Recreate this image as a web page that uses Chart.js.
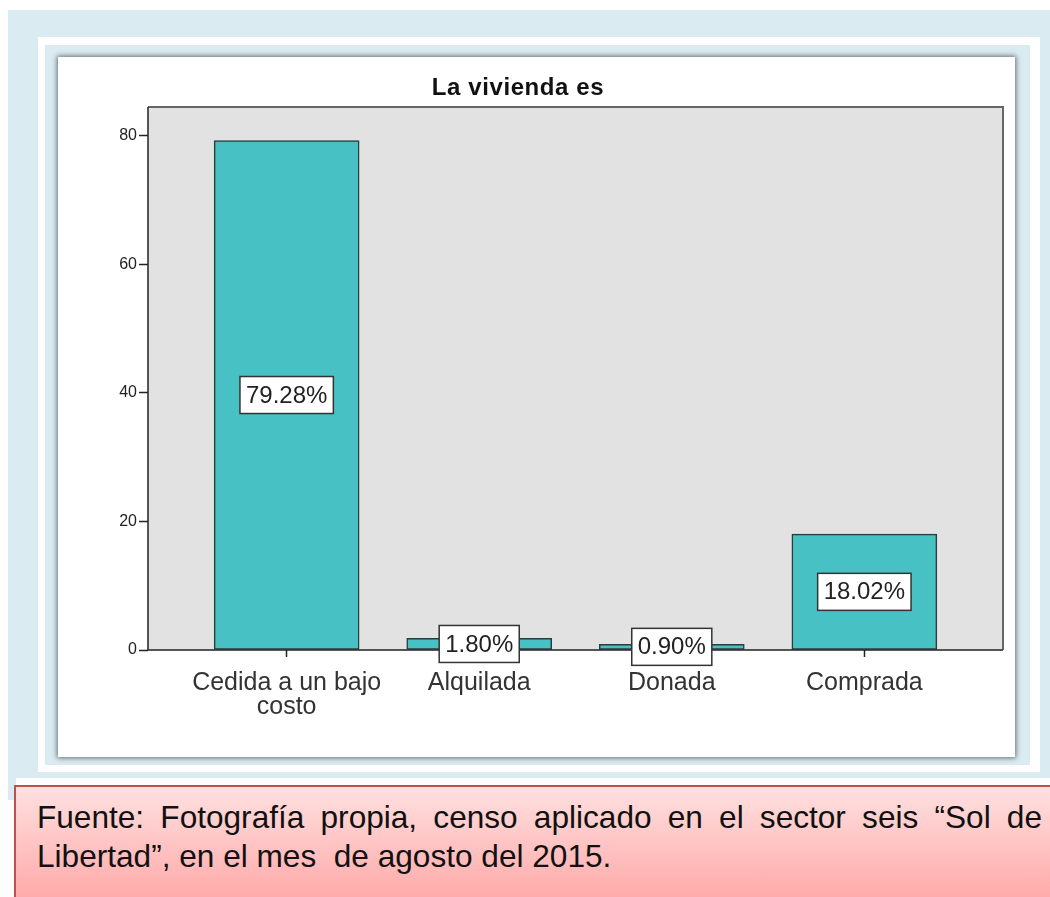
<!DOCTYPE html>
<html><head><meta charset="utf-8">
<script src="https://cdn.jsdelivr.net/npm/chart.js@4/dist/chart.umd.min.js"></script>
<style>
html,body{margin:0;padding:0;background:#fff;width:1050px;height:897px;overflow:hidden;font-family:"Liberation Sans",Arial,sans-serif;}
#outer{position:absolute;left:8px;top:10px;width:1042px;height:768px;background:#daecf2;}
#strip{position:absolute;left:8px;top:770px;width:8px;height:30px;background:#daecf2;}
#frame{position:absolute;left:38px;top:37px;width:1002px;height:735px;background:#fff;}
#inner{position:absolute;left:45px;top:45px;width:985px;height:720px;background:#daecf2;}
#card{position:absolute;left:58px;top:57px;width:957px;height:700px;background:#fff;box-shadow:0 0 5px 1px rgba(0,0,0,0.55);}
#title{position:absolute;left:58px;top:73px;width:920px;text-align:center;font:bold 24px "Liberation Sans",Arial,sans-serif;letter-spacing:0.6px;color:#111;}
#cv{position:absolute;left:58px;top:57px;}
#note{position:absolute;left:14px;top:785px;width:1036px;height:112px;box-sizing:border-box;border-top:2px solid #c0504d;border-left:2px solid #c0504d;background:linear-gradient(#ffe0e0,#ffaaaa);}
#note div{position:absolute;left:21px;width:1005px;font:31.6px "Liberation Sans",Arial,sans-serif;color:#111;line-height:39px;white-space:nowrap;}
#l1{top:11px;text-align:justify;text-align-last:justify;white-space:normal !important;}
#l2{top:50px;}
</style></head>
<body>
<div id="outer"></div><div id="strip"></div>
<div id="frame"></div><div id="inner"></div>
<div id="card"></div>
<canvas id="cv" width="957" height="700"></canvas>
<div id="title">La vivienda es</div>
<div id="note"><div id="l1">Fuente: Fotografía propia, censo aplicado en el sector seis “Sol de</div><div id="l2">Libertad”, en el mes&nbsp; de agosto del 2015.</div></div>
<script>
const categories = [["Cedida a un bajo","costo"], "Alquilada", "Donada", "Comprada"];
const percentages = [79.28, 1.80, 0.90, 18.02];
const yTicks = [0, 20, 40, 60, 80];
const barLabels = ["79.28%", "1.80%", "0.90%", "18.02%"];

const plotBg = {
  id:'plotBg',
  beforeDraw(c){
    const a=c.chartArea, x=c.ctx;
    x.save(); x.fillStyle='#e2e2e2';
    x.fillRect(a.left,a.top,a.right-a.left,a.bottom-a.top);
    x.restore();
  },
  afterDatasetsDraw(c){
    const a=c.chartArea, x=c.ctx;
    x.save();
    x.strokeStyle='#666'; x.lineWidth=2;
    x.beginPath(); x.moveTo(a.left,a.top); x.lineTo(a.right,a.top); x.lineTo(a.right,a.bottom); x.stroke();
    x.strokeStyle='#222'; x.lineWidth=1.5;
    x.beginPath(); x.moveTo(a.left,a.top); x.lineTo(a.left,a.bottom); x.lineTo(a.right,a.bottom); x.stroke();
    const meta=c.getDatasetMeta(0);
    x.font='24px "Liberation Sans", Arial, sans-serif';
    x.textAlign='center'; x.textBaseline='middle';
    meta.data.forEach((el,i)=>{
      const t=barLabels[i];
      const w=x.measureText(t).width+12, h=37;
      const cx=el.x, cy=(el.y+el.base)/2;
      x.fillStyle='#fff'; x.fillRect(cx-w/2,cy-h/2,w,h);
      x.strokeStyle='#333'; x.lineWidth=1.5; x.strokeRect(cx-w/2,cy-h/2,w,h);
      x.fillStyle='#222'; x.fillText(t,cx,cy+1);
    });
    x.restore();
  }
};

new Chart(document.getElementById('cv'), {
  type:'bar',
  data:{datasets:[{
    data: percentages.map((v,i)=>({x:i,y:v})),
    backgroundColor:'#48c1c5', borderColor:'#2b3a3b', borderWidth:1.5, borderSkipped:false,
    barThickness:145
  }]},
  options:{
    responsive:false, animation:false,
    layout:{padding:{left:0,right:12,top:50,bottom:0}},
    plugins:{legend:{display:false},tooltip:{enabled:false}},
    scales:{
      x:{type:'linear', min:-0.72, max:3.72, offset:false,
        afterBuildTicks(s){ s.ticks = categories.map((_,i)=>({value:i})); },
        afterFit(s){ s.height=107; },
        grid:{offset:false, drawOnChartArea:false, drawTicks:true, tickLength:7, tickColor:'#222', tickWidth:1.5},
        border:{display:false},
        ticks:{autoSkip:false, maxRotation:0, padding:14, color:'#333',
          font:{family:'"Liberation Sans", Arial, sans-serif', size:25, lineHeight:0.96},
          callback:(v)=>categories[v]}
      },
      y:{min:0, max:84.5,
        afterBuildTicks(s){ s.ticks = yTicks.map(v=>({value:v})); },
        afterFit(s){ s.width=90; },
        grid:{drawOnChartArea:false, drawTicks:true, tickLength:9, tickColor:'#222', tickWidth:1.5},
        border:{display:false},
        ticks:{padding:2, color:'#222', font:{family:'"Liberation Sans", Arial, sans-serif', size:16}}
      }
    }
  },
  plugins:[plotBg]
});
</script>
</body></html>
